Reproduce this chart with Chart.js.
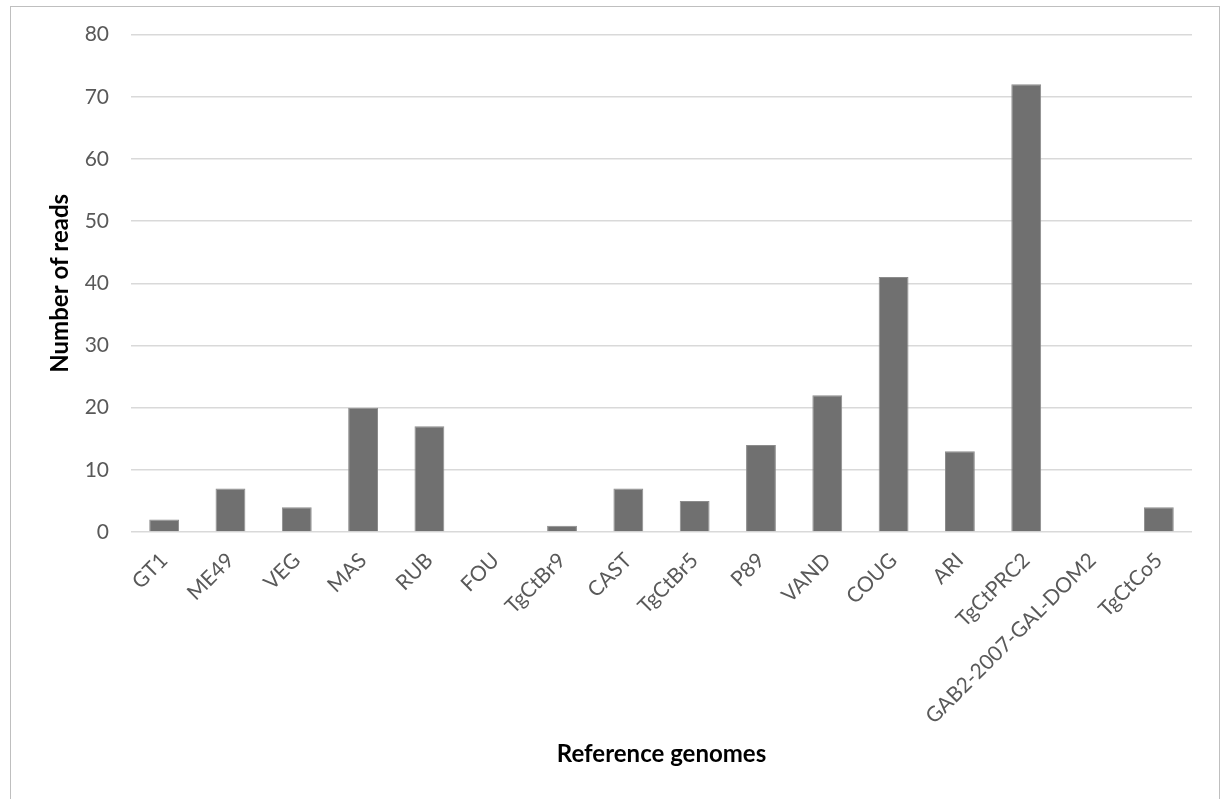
<!DOCTYPE html>
<html>
<head>
<meta charset="utf-8">
<script src="https://cdn.jsdelivr.net/npm/chart.js@4/dist/chart.umd.min.js"></script>
<style>
  html, body { margin: 0; padding: 0; background: #fff; overflow: hidden; }
  #frame { position: absolute; left: 10px; top: 6px; width: 1210px; height: 820px;
           border: 1px solid #bfbfbf; box-sizing: border-box; }
  #wrap { position: absolute; left: 0; top: 0; width: 1223px; height: 799px; }
</style>
</head>
<body>
<div id="frame"></div>
<div id="wrap"><canvas id="canvas" width="1223" height="799"></canvas></div>
<script>
var genomes = ['GT1', 'ME49', 'VEG', 'MAS', 'RUB', 'FOU', 'TgCtBr9', 'CAST', 'TgCtBr5',
               'P89', 'VAND', 'COUG', 'ARI', 'TgCtPRC2', 'GAB2-2007-GAL-DOM2', 'TgCtCo5'];
var reads = [2, 7, 4, 20, 17, 0, 1, 7, 5, 14, 22, 41, 13, 72, 0, 4];
var yTicks = [0, 10, 20, 30, 40, 50, 60, 70, 80];

var ctx = document.getElementById('canvas').getContext('2d');

var myChart = new Chart(ctx, {
    type: 'bar',
    data: {
        labels: genomes,
        datasets: [{
            label: 'Number of reads',
            data: reads,
            backgroundColor: '#707070',
            borderColor: '#8c8c8c',
            borderWidth: 1,
            barPercentage: 0.9,
            categoryPercentage: 0.5
        }]
    },
    options: {
        responsive: false,
        animation: false,
        layout: { padding: { left: 46, right: 31, top: 30, bottom: 0 } },
        plugins: {
            legend: { display: false },
            tooltip: { enabled: false }
        },
        scales: {
            x: {
                grid: { display: false },
                border: { display: false },
                ticks: {
                    color: '#595959',
                    font: { family: 'Lato', size: 21 },
                    minRotation: 45,
                    maxRotation: 45,
                    autoSkip: false,
                    padding: 8
                },
                title: {
                    display: true,
                    text: 'Reference genomes',
                    color: '#000',
                    font: { family: 'Lato', size: 24, weight: 'bold' },
                    padding: { top: 0, bottom: 30 }
                },
                afterFit: function(axis) { axis.height = 799 - 532; }
            },
            y: {
                min: 0,
                max: 80,
                afterBuildTicks: function(axis) {
                    axis.ticks = yTicks.map(function(v) { return { value: v }; });
                },
                grid: { color: '#d9d9d9', lineWidth: 1.5, drawTicks: false },
                border: { display: false },
                ticks: {
                    color: '#595959',
                    font: { family: 'Lato', size: 21 },
                    padding: 22
                },
                title: {
                    display: true,
                    text: 'Number of reads',
                    color: '#000',
                    font: { family: 'Lato', size: 24, weight: 'bold' },
                    padding: { top: 0, bottom: 0 }
                },
                afterFit: function(axis) { axis.width = 131 - 46; }
            }
        }
    }
});
</script>
</body>
</html>
